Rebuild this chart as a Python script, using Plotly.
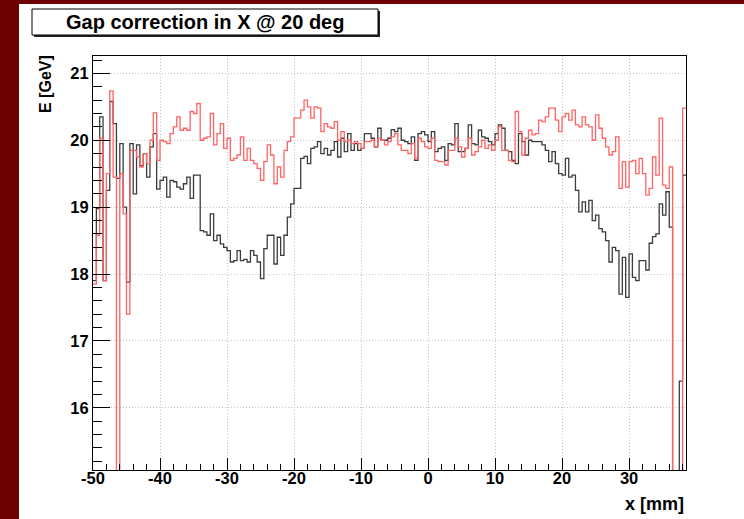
import plotly.graph_objects as go

# Binning: 0.5 mm bins starting at x = -50 mm
bin_start = -50.0
bin_width = 0.5

# Energy per bin [GeV], before gap correction (black)
e_uncorrected = [
    17.9, 18.98, 20.35, 17.9, 19.25, 20.58, 20.25, 19.43, 19.95, 19.0,
    17.88, 19.95, 19.2, 19.93, 19.62, 19.8, 19.45, 19.9, 20.1, 19.27,
    19.4, 19.45, 19.15, 19.4, 19.38, 19.3, 19.27, 19.35, 19.45, 19.13,
    19.48, 19.48, 18.65, 18.63, 18.58, 18.9, 18.5, 18.58, 18.45, 18.4,
    18.35, 18.18, 18.2, 18.35, 18.2, 18.22, 18.18, 18.35, 18.28, 18.18,
    17.93, 18.38, 18.58, 18.58, 18.15, 18.55, 18.28, 18.58, 18.85, 19.05,
    19.28, 19.28, 19.73, 19.76, 19.65, 19.88, 19.9, 19.98, 19.8, 19.88,
    19.78, 19.85, 19.98, 19.75, 20.03, 19.83, 20.1, 19.85, 19.95, 19.85,
    19.88, 20.1, 20.1, 20.03, 19.9, 20.18, 20.0, 20.0, 20.03, 20.16,
    20.13, 20.18, 20.0, 19.98, 19.95, 20.05, 19.7, 20.1, 20.13, 20.08,
    19.98, 20.13, 19.83, 19.88, 19.9, 19.7, 19.95, 19.93, 20.25, 19.83,
    19.83, 19.88, 20.23, 19.95, 19.93, 20.15, 20.05, 20.03, 19.98, 19.93,
    20.1, 20.23, 20.18, 19.85, 19.83, 19.7, 19.65, 20.1, 19.98, 19.78,
    20.0, 19.98, 19.98, 19.98, 19.93, 19.85, 19.68, 19.83, 19.65, 19.5,
    19.48, 19.73, 19.45, 19.48, 19.25, 18.93, 19.08, 18.93, 19.1, 18.8,
    18.88, 18.68, 18.63, 18.5, 18.18, 18.4, 18.35, 17.7, 18.25, 17.65,
    18.3, 17.95, 17.9, 18.2, 18.2, 18.06, 18.46, 18.56, 18.6, 19.05,
    18.88, 19.23, 18.7, 0.0, 0.0, 16.4, 19.48,
]

# Energy per bin [GeV], after gap correction (red)
e_corrected = [
    17.85, 18.58, 20.03, 17.9, 19.5, 20.74, 19.45, 0.0, 19.5, 18.9,
    17.4, 19.85, 19.85, 19.75, 19.6, 19.8, 19.65, 20.0, 20.41, 19.7,
    20.0, 19.98, 19.95, 20.1, 20.2, 20.35, 20.15, 20.18, 20.15, 20.43,
    20.4, 20.55, 20.0, 20.03, 20.05, 20.4, 19.93, 20.1, 20.25, 19.88,
    20.03, 19.7, 19.73, 19.78, 20.05, 19.7, 19.88, 19.7, 19.65, 19.58,
    19.4, 19.68, 19.93, 19.78, 19.35, 19.6, 19.45, 19.85, 19.98, 20.05,
    20.33, 20.33, 20.45, 20.6, 20.5, 20.33, 20.5, 20.48, 20.13, 20.25,
    20.2, 20.18, 20.28, 20.0, 20.13, 19.98, 20.0, 19.95, 19.98, 19.95,
    19.88, 19.98, 19.98, 20.0, 19.9, 20.03, 20.0, 19.93, 19.98, 20.05,
    20.1, 19.93, 19.85, 19.85, 19.8, 19.95, 19.73, 20.03, 19.98, 19.9,
    19.88, 20.03, 19.7, 19.68, 19.68, 19.63, 19.85, 19.85, 20.03, 19.9,
    19.75, 19.88, 20.03, 19.78, 19.83, 19.9, 20.0, 19.88, 19.93, 19.85,
    20.0, 20.2, 19.85, 19.85, 19.7, 19.68, 20.43, 20.13, 19.78, 20.03,
    20.15, 20.08, 20.1, 20.3, 20.28, 20.35, 20.48, 20.48, 20.3, 20.13,
    20.35, 20.4, 20.3, 20.45, 20.23, 20.2, 20.35, 20.23, 20.2, 20.0,
    20.38, 20.18, 20.03, 19.9, 19.78, 19.83, 20.05, 19.28, 19.68, 19.3,
    19.68, 19.7, 19.5, 19.73, 19.5, 19.18, 19.28, 19.75, 19.48, 20.33,
    19.33, 19.28, 19.6, 0.0, 0.0, 0.0, 20.48,
]

x_ticks = [-50, -40, -30, -20, -10, 0, 10, 20, 30]
y_ticks = [16, 17, 18, 19, 20, 21]

title_text = "Gap correction in X @ 20 deg"
x_title = "x [mm]"
y_title = "E [GeV]"

X_RANGE = [-50.0, 38.5]
Y_RANGE = [15.07, 21.26]

# Page geometry (pixels)
W, H = 744, 519
L, R, T, B = 93, 686, 56, 470
PW, PH = R - L, B - T


def px_x(px):
    return (px - L) / PW


def px_y(py):
    return (B - py) / PH


def step_xy(values):
    n = len(values)
    xs = [bin_start + bin_width * i for i in range(n + 1)]
    ys = list(values) + [values[-1]]
    return xs, ys


FONT = "Liberation Sans, Arial, sans-serif"

fig = go.Figure()

xb, yb = step_xy(e_uncorrected)
fig.add_trace(go.Scatter(x=xb, y=yb, mode="lines", line_shape="hv",
                         line=dict(color="#3c3c3c", width=1.3),
                         hoverinfo="skip", showlegend=False))
xr, yr = step_xy(e_corrected)
fig.add_trace(go.Scatter(x=xr, y=yr, mode="lines", line_shape="hv",
                         line=dict(color="#ff6464", width=1.3),
                         hoverinfo="skip", showlegend=False))

axis_common = dict(
    showline=True, linecolor="black", linewidth=1, mirror=True,
    ticks="inside", tickcolor="black", tickwidth=1,
    showgrid=True, gridcolor="#c4c4c4", gridwidth=1, griddash="1px,2px",
    zeroline=False,
    tickfont=dict(family=FONT, size=16.5, color="black", weight="bold"),
)

fig.update_layout(
    width=W, height=H,
    margin=dict(l=L, r=W - R, t=T, b=H - B, pad=0),
    paper_bgcolor="white", plot_bgcolor="white",
    xaxis=dict(range=X_RANGE, tickmode="array", tickvals=x_ticks,
               ticktext=[str(v) for v in x_ticks], ticklen=12,
               ticklabelstandoff=-7,
               minor=dict(ticks="inside", ticklen=6, dtick=2, tick0=0,
                          tickcolor="black", showgrid=False),
               **axis_common),
    yaxis=dict(range=Y_RANGE, tickmode="array", tickvals=y_ticks,
               ticktext=[str(v) for v in y_ticks], ticklen=17,
               minor=dict(ticks="inside", ticklen=9, dtick=0.2, tick0=16,
                          tickcolor="black", showgrid=False),
               **axis_common),
)

shapes = [
    # dark red page border (left and top strips)
    dict(type="rect", xref="paper", yref="paper", layer="above",
         x0=px_x(0), x1=px_x(19), y0=px_y(H), y1=px_y(0),
         fillcolor="#6e0000", line=dict(width=0)),
    dict(type="rect", xref="paper", yref="paper", layer="above",
         x0=px_x(0), x1=px_x(W), y0=px_y(4), y1=px_y(0),
         fillcolor="#6e0000", line=dict(width=0)),
    # title box with shadow
    dict(type="rect", xref="paper", yref="paper", layer="above",
         x0=px_x(34), x1=px_x(380), y0=px_y(37), y1=px_y(11),
         fillcolor="#222222", line=dict(width=0)),
    dict(type="rect", xref="paper", yref="paper", layer="above",
         x0=px_x(32), x1=px_x(378), y0=px_y(35), y1=px_y(9),
         fillcolor="white", line=dict(color="black", width=1)),
]
fig.update_layout(shapes=shapes)

fig.add_annotation(x=px_x(205), y=px_y(22), xref="paper", yref="paper",
                   text=title_text, showarrow=False, xanchor="center", yanchor="middle",
                   font=dict(family=FONT, size=20, color="black", weight="bold"))
fig.add_annotation(x=px_x(686), y=px_y(504), xref="paper", yref="paper",
                   text=x_title, showarrow=False, xanchor="right", yanchor="middle",
                   font=dict(family=FONT, size=18, color="black", weight="bold"))
fig.add_annotation(x=px_x(46), y=px_y(84), xref="paper", yref="paper",
                   text=y_title, showarrow=False, textangle=-90,
                   xanchor="center", yanchor="middle",
                   font=dict(family=FONT, size=16, color="black", weight="bold"))

fig.write_html("out.html")
